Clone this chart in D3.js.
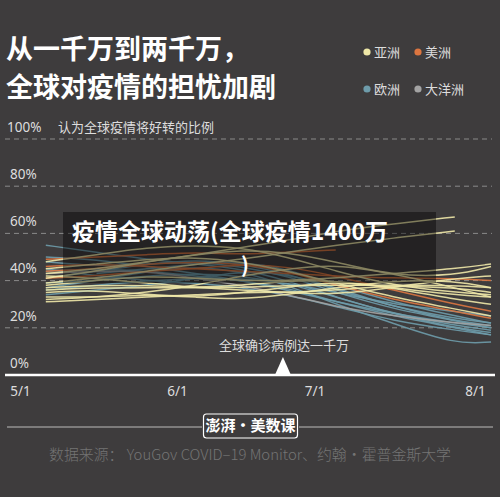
<!DOCTYPE html>
<html><head><meta charset="utf-8">
<script src="https://cdn.jsdelivr.net/npm/d3@7"></script>
<style>
html,body{margin:0;padding:0;background:#3e3c3d;}
svg{display:block;font-family:"Noto Sans CJK SC","Noto Sans",sans-serif;}
</style></head>
<body><svg id="c" width="500" height="497"></svg>
<script>
// ---- data ----
const dates = ["2020-05-06","2020-05-16","2020-05-26","2020-06-05","2020-06-15","2020-06-25","2020-07-05","2020-07-16","2020-07-28","2020-08-04"];
const regions = ["亚洲","美洲","欧洲","大洋洲"];
const regionColors = ["#efe8a8","#dc7540","#6e9cab","#a3a3a3"];
const asia = [
  [43,45,48,51,54,57,61,64,67,null],
  [39,41,44,47,49,52,55,58,61,null],
  [41,44,48,51,53,52,48,42,42,46],
  [31,32,33,34,35,35,36,38,37,35],
  [33,33,34,33,32,34,37,40,40,37],
  [35,36,34,33,35,37,40,37,32,30],
  [45,47,49,50,48,44,39,33,28,25],
  [37,38,38,37,38,40,40,37,34,33],
  [48,51,54,55,54,50,44,38,35,34],
  [36,37,37,37,37,38,38,38,38,37],
  [42,41,39,37,36,35,34,37,41,42],
  [32,33,35,38,42,45,47,43,37,33],
  [38,40,42,41,40,40,41,43,45,47]
];
const america = [
  [46,47,46,45,44,43,42,41,41,40],
  [49,50,51,52,51,52,53,null,null,null],
  [44,45,47,48,47,44,38,32,27,24],
  [41,42,44,45,47,46,42,36,30,27]
];
const europe = [
  [55,52,49,47,45,40,33,26,21,19],
  [48,46,47,48,46,42,35,28,23,20],
  [44,45,44,42,40,37,31,25,20,17],
  [41,44,47,49,47,43,36,29,24,22],
  [39,40,42,43,42,39,33,26,20,18],
  [37,40,44,46,44,38,30,22,13,14],
  [34,36,38,41,44,43,37,29,23,21],
  [50,49,46,43,40,36,31,26,22,20],
  [45,42,40,39,37,34,29,23,19,17],
  [36,38,40,41,41,39,35,30,27,25],
  [null,43,45,47,48,45,38,31,25,22]
];
const oceania = [
  [43,44,44,41,38,34,29,25,22,21]
];
const yTicks = [0,20,40,60,80,100];
const xTicks = ["2020-05-01","2020-06-01","2020-07-01","2020-08-01"];
const xTickLabels = ["5/1","6/1","7/1","8/1"];
const markerDate = "2020-06-24";

// ---- scales ----
const svg = d3.select("#c");
const parse = d3.timeParse("%Y-%m-%d");
const x = d3.scaleTime().domain(xTicks.map(parse)).range([20.5,177.5,315,475.5]);
const y = d3.scaleLinear().domain([0,100]).range([375,139]);

// title
const title = svg.append("g").attr("fill","#fff").attr("font-size",27).attr("font-weight",700);
title.append("text").attr("x",6).attr("y",59).text("从一千万到两千万，");
title.append("text").attr("x",6).attr("y",97).text("全球对疫情的担忧加剧");

// legend
const legPos = [[367,52],[418,52],[367,89],[418,89]];
regions.forEach((r,i)=>{
  const g = svg.append("g").attr("transform",`translate(${legPos[i][0]},${legPos[i][1]})`);
  g.append("circle").attr("r",3.6).attr("fill",regionColors[i]);
  g.append("text").attr("x",7).attr("dy","0.35em").attr("fill","#ddd").attr("font-size",13).text(r);
});

// grid
svg.append("g").selectAll("line").data(yTicks.filter(d=>d>0)).join("line")
  .attr("x1",5).attr("x2",492).attr("y1",d=>y(d)).attr("y2",d=>y(d))
  .attr("stroke","#8a8a8a").attr("stroke-width",1).attr("stroke-dasharray","5,4");
svg.append("g").selectAll("text").data(yTicks).join("text")
  .attr("x",d=>d===100?7:10).attr("y",d=>y(d)-12).attr("dy","0.35em")
  .attr("fill","#ddd").attr("font-size",13.5).attr("font-family","'Noto Sans',sans-serif")
  .text(d=>d+"%");
svg.append("text").attr("x",58).attr("y",y(100)-12).attr("dy","0.35em")
  .attr("fill","#ddd").attr("font-size",13).text("认为全球疫情将好转的比例");

// lines
const line = d3.line().defined(d=>d[1]!=null).x(d=>x(parse(d[0]))).y(d=>y(d[1])).curve(d3.curveBasis);
const groups = [[europe,2],[oceania,3],[america,1],[asia,0]];
const lg = svg.append("g").attr("fill","none").attr("stroke-width",1.5).attr("stroke-opacity",0.9);
groups.forEach(([arr,ci])=>{
  arr.forEach(vals=>{
    const pts = dates.map((d,i)=>[d,vals[i]]).filter(p=>p[1]!=null);
    lg.append("path").attr("d",line(pts)).attr("stroke",regionColors[ci]);
  });
});

// x axis
svg.append("line").attr("x1",5).attr("x2",495).attr("y1",375).attr("y2",375).attr("stroke","#fff").attr("stroke-width",2.5);
const mx = x(parse(markerDate));
svg.append("path").attr("d",`M${mx-8},375 L${mx},357 L${mx+8},375 Z`).attr("fill","#fff");
svg.append("text").attr("x",mx+1).attr("y",345).attr("dy","0.35em").attr("text-anchor","middle")
  .attr("fill","#ddd").attr("font-size",13).text("全球确诊病例达一千万");
svg.append("g").selectAll("text").data(xTicks).join("text")
  .attr("x",d=>x(parse(d))).attr("y",391).attr("dy","0.35em").attr("text-anchor","middle")
  .attr("fill","#ddd").attr("font-size",13.5).attr("font-family","'Noto Sans',sans-serif")
  .text((d,i)=>xTickLabels[i]);

// overlay
svg.append("rect").attr("x",63).attr("y",212).attr("width",373).attr("height",71).attr("fill","#000").attr("fill-opacity",0.42);
const ov = svg.append("g").attr("fill","#fff").attr("font-weight",700);
ov.append("text").attr("x",72).attr("y",240).attr("font-size",23).text("疫情全球动荡(全球疫情1400万");
ov.append("text").attr("x",241).attr("y",273).attr("font-size",21).text(")");

// footer
svg.append("line").attr("x1",7).attr("x2",202).attr("y1",427).attr("y2",427).attr("stroke","#bbb").attr("stroke-width",1);
svg.append("line").attr("x1",299).attr("x2",493).attr("y1",427).attr("y2",427).attr("stroke","#bbb").attr("stroke-width",1);
svg.append("rect").attr("x",203.5).attr("y",414).attr("width",94).attr("height",24).attr("rx",3)
  .attr("fill","none").attr("stroke","#fff").attr("stroke-width",1.2);
svg.append("text").attr("x",250.5).attr("y",426).attr("dy","0.35em").attr("text-anchor","middle")
  .attr("fill","#fff").attr("font-size",15).attr("font-weight",700).text("澎湃·美数课");
svg.append("text").attr("x",250).attr("y",455).attr("dy","0.35em").attr("text-anchor","middle")
  .attr("fill","#747474").attr("font-size",14.9).attr("font-weight",300).text("数据来源： YouGov COVID–19 Monitor、约翰·霍普金斯大学");
</script></body></html>
